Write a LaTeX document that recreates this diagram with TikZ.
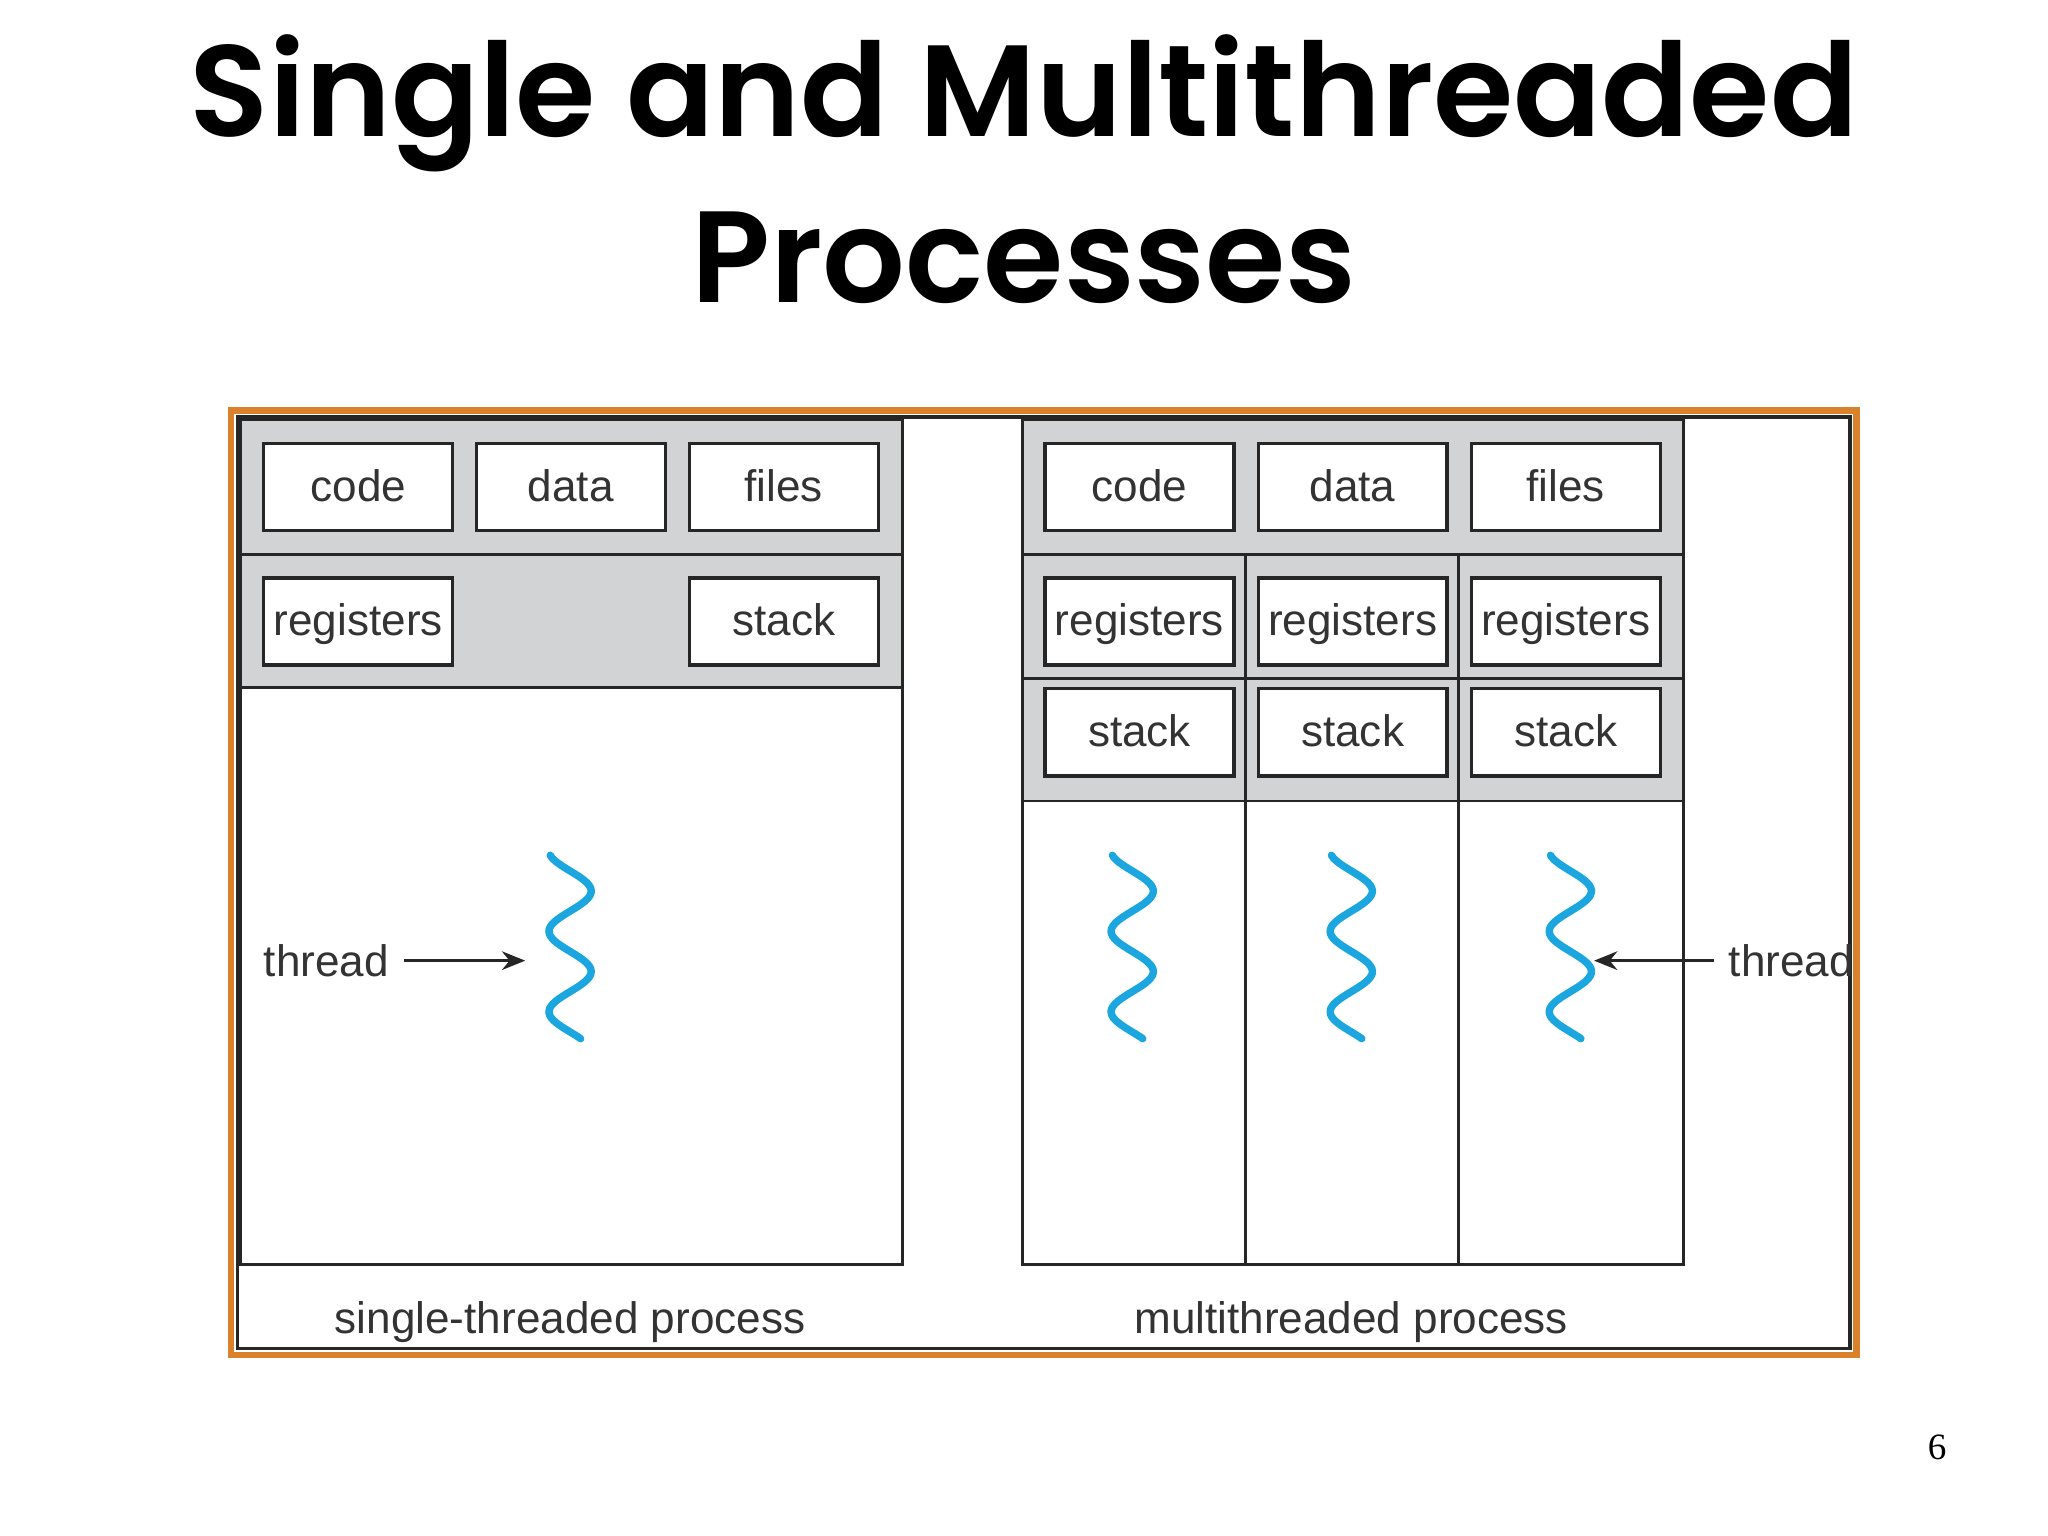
\documentclass[tikz,border=0pt]{standalone}
\usepackage{fontspec}
\setmainfont{Liberation Sans}
\newfontfamily\titlefont{Poppins SemiBold}
\newfontfamily\numfont{Liberation Serif}
\usetikzlibrary{arrows.meta}
\definecolor{grayfill}{HTML}{D1D3D4}
\definecolor{txt}{HTML}{333333}
\definecolor{wave}{HTML}{1BA6E0}
\definecolor{frame}{HTML}{D9822B}
\tikzset{
 box/.style={draw=black!85,line width=0.7pt,fill=white,minimum width=1.43cm,minimum height=0.66cm,inner sep=0pt,text height=1.6ex,text depth=0.45ex,font=\fontsize{9.5}{11}\selectfont,text=txt},
 region/.style={draw=black!85,line width=0.6pt},
 thr/.style={wave,line width=1.6pt,line cap=round},
 lbl/.style={font=\fontsize{9.5}{11}\selectfont,text=txt,inner sep=1pt},
 arr/.style={-{Stealth[length=5pt,width=4pt]},line width=0.7pt,black!85}
}
\begin{document}
\begin{tikzpicture}[x=0.01cm,y=-0.01cm]
\useasboundingbox (0,0) rectangle (1552,1164);
\node[font=\titlefont\fontsize{28}{34}\selectfont] (t1) at (776,78) {Single and Multithreaded};
\node[font=\titlefont\fontsize{28}{34}\selectfont] (t2) at (776,195) {Processes};
% frame
\draw[frame,line width=1.4pt] (175,311) rectangle (1407,1027);
\draw[black!85,line width=0.7pt] (180,316) rectangle (1402,1022);
% left process
\fill[grayfill] (182,318) rectangle (684,521);
\draw[region] (182,318) rectangle (684,958);
\draw[region] (182,420) -- (684,420);
\draw[region] (182,521) -- (684,521);
\node[box] (lc) at (271.5,369) {code};
\node[box] (ld) at (432.5,369) {data};
\node[box] (lf) at (594,369) {files};
\node[box] (lr) at (271.5,471) {registers};
\node[box] (ls) at (594,471) {stack};
\draw[thr] plot[domain=-70:750,samples=80] ({432+16*sin(\x)},{660+\x/360*61});
\coordinate (lw) at (398,728);
\node[lbl,anchor=east] (lt) at (299,728) {thread};
\draw[arr] (lt.east) ++(7,0) -- (lw);
\node[lbl] (l1) at (432,1002) {single-threaded process};
% right process
\fill[grayfill] (775,318) rectangle (1276,607);
\draw[region] (775,318) rectangle (1276,958);
\draw[region] (775,420) -- (1276,420);
\draw[region] (775,514) -- (1276,514);
\draw[region] (775,607) -- (1276,607);
\draw[region] (944,420) -- (944,958);
\draw[region] (1105,420) -- (1105,958);
\node[box] (rc) at (863.5,369) {code};
\node[box] (rd) at (1025,369) {data};
\node[box] (rf) at (1186.5,369) {files};
\foreach \n/\x in {1/863.5,2/1025,3/1186.5}{
 \node[box] (rr\n) at (\x,471) {registers};
 \node[box] (rs\n) at (\x,555) {stack};
}
\foreach \c in {858,1024,1190}{
 \draw[thr] plot[domain=-70:750,samples=80] ({\c+16*sin(\x)},{660+\x/360*61});
}
\coordinate (rw) at (1208,728);
\node[lbl,anchor=west] (rt) at (1306,728) {thread};
\draw[arr] (rt.west) ++(-7,0) -- (rw);
\node[lbl] (l2) at (1024,1002) {multithreaded process};
\node[font=\numfont\fontsize{8}{10}\selectfont] (pg) at (1468,1097) {6};
\end{tikzpicture}
\end{document}
